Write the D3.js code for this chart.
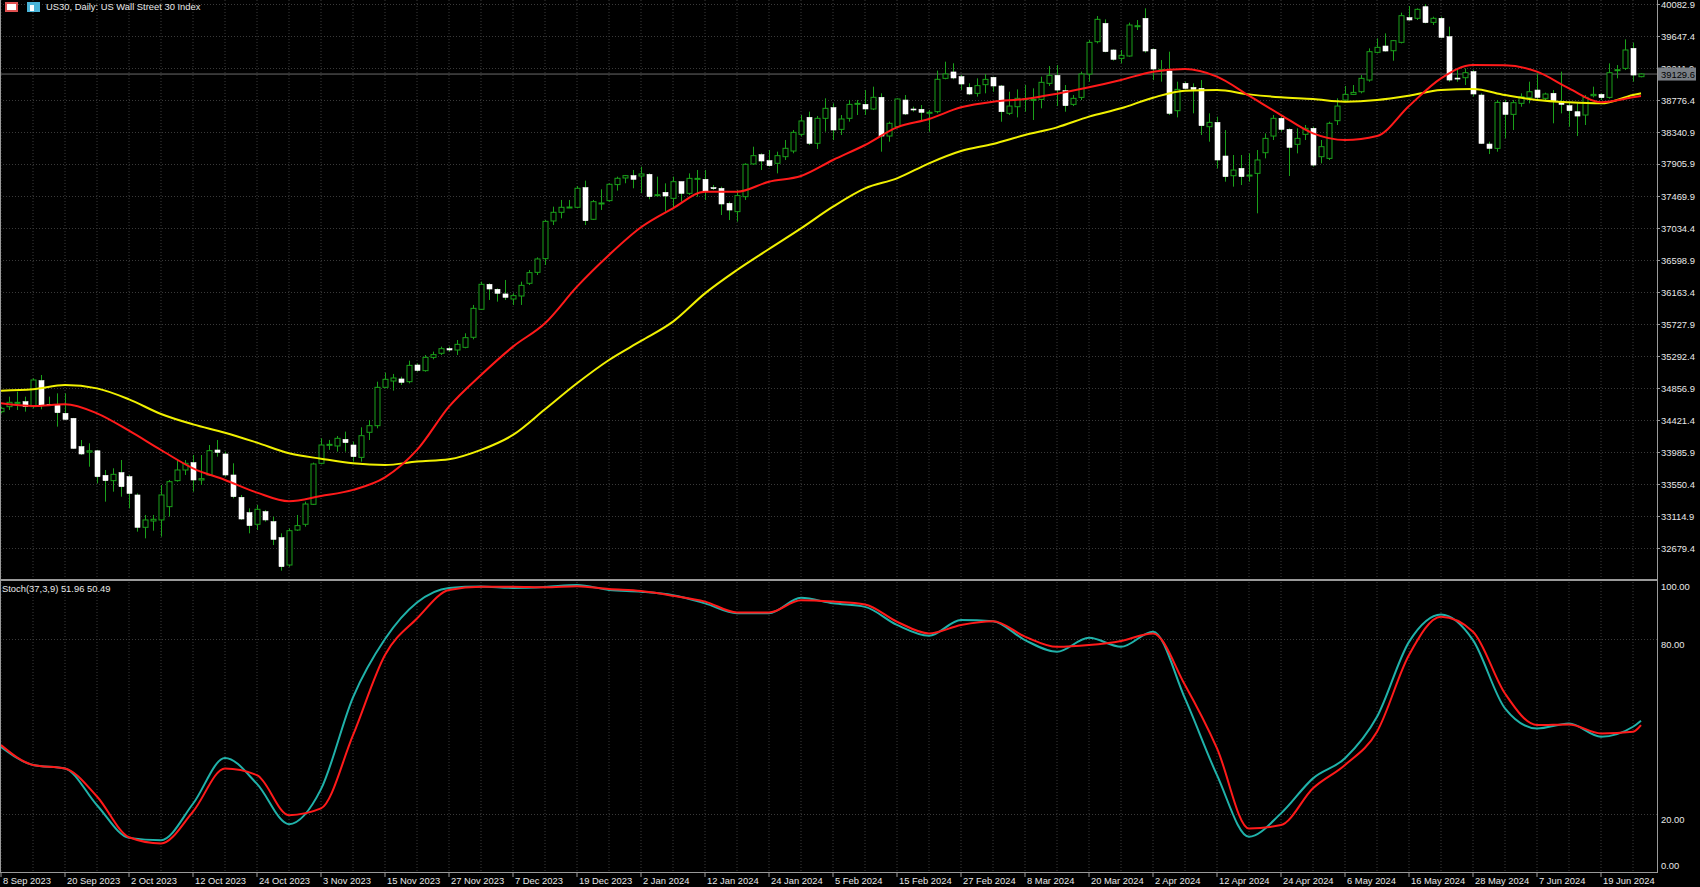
<!DOCTYPE html>
<html><head><meta charset="utf-8">
<script src="https://cdn.jsdelivr.net/npm/d3@7"></script>
<style>html,body{margin:0;padding:0;background:#000;overflow:hidden}svg{display:block}text{font-family:"Liberation Sans",Arial,sans-serif;font-size:9.4px;fill:#e8e8e8}</style>
</head><body>
<script>
// OHLC per daily bar (bar 0 = 8 Sep 2023)
const opens=[34535,34603,34648,34671,34603,34957,34635,34626,34512,34444,34059,33984,34002,33668,33596,33705,33650,33401,32961,33047,33061,33242,33596,33741,33841,33605,33673,34013,33959,33673,33369,33160,33002,33174,33038,32820,32448,32924,33002,33274,33832,34081,34068,34158,34081,33913,34254,34344,34866,34952,34980,34943,35170,35093,35274,35329,35392,35374,35410,35547,35928,36268,36200,36137,36068,36109,36282,36431,36617,37130,37248,37316,37316,37584,37153,37366,37407,37625,37715,37747,37742,37765,37479,37520,37438,37665,37506,37701,37697,37583,37574,37370,37257,37461,37906,38032,37951,37915,38005,38082,38309,38541,38187,38527,38672,38377,38527,38727,38717,38654,38813,38286,38414,38776,38654,38650,38600,38618,39071,39158,39094,38949,38867,38985,39085,38967,38595,38685,38785,38776,38785,39003,39112,38903,38717,38812,39130,39570,39819,39457,39343,39375,39774,39888,39466,39175,39171,38631,39003,38948,38935,38413,38472,38014,37746,37846,37751,37778,38059,38286,38527,38377,38173,38309,38391,38005,37982,38495,38776,38853,38889,39048,39425,39511,39447,39561,39897,39888,40046,39833,39888,39638,39075,39080,39162,38844,38177,38118,38744,38581,38731,38812,38912,38799,38867,38754,38699,38617,38572,38835,38853,38812,39180,39207,39479,39094];
const highs=[34603,34739,34807,34739,34989,35034,34739,34784,34784,34450,34149,34104,34016,33741,33764,33877,33673,33423,33129,33129,33537,33605,33877,33877,33945,33945,34081,34149,33990,33832,33401,33219,33265,33197,33106,32879,32947,33129,33310,33841,34172,34150,34204,34263,34127,34322,34421,34943,35066,35048,35011,35229,35193,35306,35352,35420,35420,35510,35601,35987,36304,36282,36213,36327,36146,36304,36463,36635,37144,37325,37416,37416,37606,37679,37416,37561,37643,37733,37756,37824,37869,37779,37733,37642,37733,37665,37778,37824,37824,37620,37597,37393,37552,37915,38141,38051,38096,38073,38232,38368,38572,38618,38559,38799,38731,38572,38777,38777,38913,38958,38867,38482,38799,38844,38686,38708,38640,39176,39298,39276,39117,39003,39071,39130,39094,38980,38889,38921,38980,38935,39094,39239,39252,38980,38844,39162,39593,39919,39874,39466,39457,39829,39865,40024,39479,39320,39434,39026,39026,39003,39048,38595,38549,38368,38028,38028,38050,38096,38322,38572,38572,38391,38391,38436,38413,38232,38481,38799,38967,38980,39116,39479,39615,39683,39593,39965,40055,40024,40083,39910,39910,39774,39207,39207,39184,38867,38209,38776,38776,38776,38867,39026,39139,38876,38912,39162,38740,38731,38844,38958,38867,39275,39252,39602,39556,39139];
const lows=[34512,34558,34558,34535,34580,34567,34626,34331,34421,34030,33945,33786,33560,33310,33446,33378,33219,32902,32811,32915,32834,33106,33582,33673,33446,33537,33659,33922,33650,33355,33061,32879,32924,33038,32720,32371,32425,32911,32970,33265,33818,34014,33991,33991,33855,33855,34149,34308,34853,34821,34898,34920,35079,35079,35247,35306,35352,35306,35397,35519,35919,36055,36032,36055,35987,35987,36259,36395,36531,37075,37166,37316,37302,37075,37144,37280,37393,37543,37643,37575,37507,37425,37461,37257,37302,37393,37484,37461,37416,37552,37211,37143,37121,37416,37892,37824,37869,37778,37960,38051,38278,38164,38110,38345,38232,38300,38482,38572,38572,38640,38073,38209,38391,38572,38618,38482,38345,38595,39058,39058,38913,38845,38822,38867,38889,38481,38572,38540,38617,38504,38663,38967,38694,38617,38694,38776,39026,39547,39425,39311,39275,39366,39729,39420,39048,39026,38572,38540,38921,38595,38300,38209,37846,37665,37597,37619,37665,37234,37982,38232,38345,37742,38050,38232,37869,37914,37960,38436,38753,38844,38867,39026,39411,39434,39311,39547,39856,39865,39819,39797,39615,39026,39026,38980,38822,38177,38041,38073,38254,38368,38685,38731,38790,38776,38459,38595,38413,38286,38436,38812,38776,38794,39071,39184,39026,39085];
const closes=[34580,34662,34662,34603,34966,34626,34630,34521,34431,34036,33959,34002,33650,33596,33682,33514,33423,32961,33061,33070,33401,33582,33741,33832,33605,33623,34004,33981,33673,33378,33074,32984,33206,33061,32797,32425,32915,32984,33278,33823,34081,34090,34172,34113,33923,34208,34344,34866,34975,34993,34934,35165,35097,35274,35311,35392,35374,35451,35542,35941,36268,36204,36146,36091,36114,36254,36427,36613,37125,37248,37316,37320,37575,37134,37393,37375,37629,37711,37747,37697,37770,37461,37488,37470,37665,37506,37710,37710,37538,37579,37361,37279,37475,37901,38019,37946,37883,38019,38119,38336,38491,38187,38527,38663,38368,38518,38717,38731,38654,38813,38286,38459,38790,38586,38650,38609,38609,39058,39130,39076,38994,38858,38972,39057,38967,38617,38694,38799,38794,38785,39017,39112,38912,38699,38799,39130,39561,39874,39434,39330,39384,39797,39788,39443,39198,39193,38595,38921,38935,38921,38427,38472,37960,37733,37823,37733,37755,37960,38254,38527,38377,38132,38254,38391,37891,38141,38459,38694,38853,38880,39071,39434,39493,39443,39584,39924,39865,40010,39829,39888,39629,39048,39066,39148,38858,38186,38118,38744,38581,38740,38821,38889,38812,38858,38754,38717,38631,38558,38812,38853,38808,39148,39189,39457,39116,39129.6];
// moving averages, read every 4 bars (last = bar 205)
const maBars=[0,4,8,12,16,20,24,28,32,36,40,44,48,52,56,60,64,68,72,76,80,84,88,92,96,100,104,108,112,116,120,124,128,132,136,140,144,148,152,156,160,164,168,172,176,180,184,188,192,196,200,204,205];
const maFast=[34648,34612,34635,34512,34276,34013,33764,33605,33433,33315,33387,33470,33641,34014,34603,35034,35420,35738,36236,36667,37044,37302,37529,37529,37665,37742,37960,38164,38404,38518,38677,38754,38790,38862,38949,39049,39162,39198,39094,38835,38572,38323,38232,38286,38695,39071,39253,39248,39162,38935,38745,38813,38831];
const maSlow=[34821,34839,34898,34852,34703,34503,34362,34249,34113,33968,33895,33832,33809,33855,33886,34014,34218,34567,34921,35238,35497,35760,36145,36463,36749,37030,37325,37574,37710,37915,38082,38178,38300,38404,38550,38663,38808,38903,38912,38853,38813,38790,38754,38776,38835,38912,38926,38844,38776,38745,38731,38844,38867];
// Stochastic(37,3,9)
const stochMain=[43.0,36.8,35.6,23.0,11.8,11.0,23.5,39.2,30.3,16.5,28.5,60.0,80.0,92.5,97.5,98.0,97.5,97.8,98.5,96.8,96.2,95.0,92.2,88.8,88.8,94.1,92.2,91.0,84.8,81.1,86.5,86.1,79.6,75.6,80.4,77.3,82.5,59.6,33.3,12.2,20.2,32.2,39.1,53.3,79.0,88.4,79.6,56.2,49.3,51.0,46.5,49.9,51.96];
const stochSignal=[43.6,36.8,35.6,26.0,12.0,9.9,20.8,35.6,33.3,19.6,21.9,47.0,74.5,87.0,96.8,97.9,97.9,97.7,98.1,97.1,96.4,94.8,92.8,89.1,89.1,93.3,92.8,91.8,85.9,81.9,84.8,86.1,80.8,77.3,77.9,79.3,81.9,64.2,42.5,15.0,16.2,28.8,36.8,48.2,74.5,87.6,82.5,61.3,50.5,50.7,47.6,48.2,50.49];
const priceTicks=[40082.9,39647.4,39211.9,38776.4,38340.9,37905.9,37469.9,37034.4,36598.9,36163.4,35727.9,35292.4,34856.9,34421.4,33985.9,33550.4,33114.9,32679.4];
const dateLabels=["8 Sep 2023","20 Sep 2023","2 Oct 2023","12 Oct 2023","24 Oct 2023","3 Nov 2023","15 Nov 2023","27 Nov 2023","7 Dec 2023","19 Dec 2023","2 Jan 2024","12 Jan 2024","24 Jan 2024","5 Feb 2024","15 Feb 2024","27 Feb 2024","8 Mar 2024","20 Mar 2024","2 Apr 2024","12 Apr 2024","24 Apr 2024","6 May 2024","16 May 2024","28 May 2024","7 Jun 2024","19 Jun 2024"];
const stochTicks=[100,80,20,0];
const lastPrice=39129.6;

const W=1700,H=887,axisX=1657;
const svg=d3.select("body").append("svg").attr("width",W).attr("height",H);
svg.append("rect").attr("width",W).attr("height",H).attr("fill","#000");
const x=d3.scaleLinear().domain([0,205]).range([1,1641]);
const y=d3.scaleLinear().domain([40082.9,40082.9-435.5*(580-4)/32]).range([4,580]);
const ys=d3.scaleLinear().domain([0,100]).range([872.3,580.6]);
const grid="#3a3a3a";
const g=svg.append("g");
for(let b=0;b*8+1<axisX;b+=4){
  g.append("line").attr("x1",x(b)).attr("x2",x(b)).attr("y1",0).attr("y2",872).attr("stroke",grid).attr("stroke-dasharray","1,2");
}
priceTicks.forEach(p=>g.append("line").attr("x1",0).attr("x2",axisX).attr("y1",Math.round(y(p))+0.5).attr("y2",Math.round(y(p))+0.5).attr("stroke",grid).attr("stroke-dasharray","1,2"));
[80,20].forEach(v=>g.append("line").attr("x1",0).attr("x2",axisX).attr("y1",Math.round(ys(v))+0.5).attr("y2",Math.round(ys(v))+0.5).attr("stroke",grid).attr("stroke-dasharray","1,2"));
g.append("line").attr("x1",0).attr("x2",axisX).attr("y1",y(lastPrice)).attr("y2",y(lastPrice)).attr("stroke","#6b6b6b");
const green="#1aa01a";
svg.append("clipPath").attr("id","c").append("rect").attr("x",0).attr("y",0).attr("width",axisX).attr("height",580);
const cg=svg.append("g").attr("clip-path","url(#c)");
opens.forEach((o,i)=>{
  const c=closes[i],cx=Math.round(x(i))+0.5,bull=c>=o;
  cg.append("line").attr("x1",cx).attr("x2",cx).attr("y1",y(highs[i])).attr("y2",y(lows[i])).attr("stroke",green);
  const t=y(Math.max(o,c)),b=y(Math.min(o,c));
  cg.append("rect").attr("x",cx-2.5).attr("y",t).attr("width",5).attr("height",Math.max(1,b-t))
    .attr("fill",bull?"#000":"#fff").attr("stroke",bull?green:"#fff").attr("stroke-width",bull?1:0.6);
});
const line=d3.line().x((d,i)=>x(maBars[i])).curve(d3.curveMonotoneX);
cg.append("path").attr("d",line.y(d=>y(d))(maSlow)).attr("fill","none").attr("stroke","#f0f000").attr("stroke-width",2);
cg.append("path").attr("d",line.y(d=>y(d))(maFast)).attr("fill","none").attr("stroke","#ff1a1a").attr("stroke-width",2);
const sl=d3.line().x((d,i)=>x(maBars[i])).y(d=>ys(d)).curve(d3.curveMonotoneX);
svg.append("path").attr("d",sl(stochMain)).attr("fill","none").attr("stroke","#20b2aa").attr("stroke-width",2);
svg.append("path").attr("d",sl(stochSignal)).attr("fill","none").attr("stroke","#ff1a1a").attr("stroke-width",2);
svg.append("line").attr("x1",0).attr("x2",axisX).attr("y1",580).attr("y2",580).attr("stroke","#9a9a9a").attr("stroke-width",2);
svg.append("line").attr("x1",0).attr("x2",axisX).attr("y1",872.5).attr("y2",872.5).attr("stroke","#9a9a9a");
svg.append("line").attr("x1",axisX+0.5).attr("x2",axisX+0.5).attr("y1",0).attr("y2",873).attr("stroke","#9a9a9a");
svg.append("line").attr("x1",0.5).attr("x2",0.5).attr("y1",0).attr("y2",873).attr("stroke","#9a9a9a");
priceTicks.forEach(p=>{
  svg.append("line").attr("x1",axisX).attr("x2",axisX+3).attr("y1",Math.round(y(p))+0.5).attr("y2",Math.round(y(p))+0.5).attr("stroke","#9a9a9a");
  svg.append("text").attr("x",axisX+4).attr("y",y(p)+3.5).text(p.toFixed(1));
});
svg.append("rect").attr("x",axisX+1).attr("y",y(lastPrice)-6.5).attr("width",38).attr("height",13).attr("fill","#7a7f86");
svg.append("text").attr("x",axisX+4).attr("y",y(lastPrice)+3.5).style("fill","#000").text(lastPrice.toFixed(1));
stochTicks.forEach(v=>{
  svg.append("text").attr("x",axisX+4).attr("y",Math.min(Math.max(ys(v)+9,590),869)).text(v.toFixed(2));
});
dateLabels.forEach((d,k)=>{
  const xx=x(k*8);
  svg.append("line").attr("x1",xx).attr("x2",xx).attr("y1",872).attr("y2",877).attr("stroke","#9a9a9a");
  svg.append("text").attr("x",xx+2).attr("y",884).text(d);
});
svg.append("rect").attr("x",5).attr("y",2).attr("width",13).attr("height",10).attr("fill","#e05050");
svg.append("rect").attr("x",7).attr("y",4).attr("width",9).attr("height",6).attr("fill","#fff");
svg.append("rect").attr("x",27).attr("y",2).attr("width",13).attr("height",10).attr("fill","#4ab4d8");
svg.append("rect").attr("x",30).attr("y",5).attr("width",4).attr("height",6).attr("fill","#fff");
svg.append("text").attr("x",46).attr("y",10).text("US30, Daily:  US Wall Street 30 Index");
svg.append("text").attr("x",2).attr("y",592).text("Stoch(37,3,9) 51.96 50.49");
</script>
</body></html>
